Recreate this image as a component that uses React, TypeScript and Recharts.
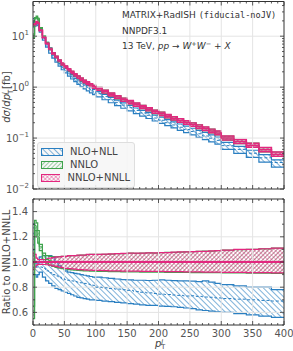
import React from "react";
import { ComposedChart, Area, Line, XAxis, YAxis, ReferenceLine, Legend } from "recharts";

// bin edges in GeV (pT of the leading jet)
const edges = [
  0, 2.5, 5, 7.5,
  10, 15, 20, 25, 30, 35, 40, 45, 50, 55, 60, 65, 70, 75, 80, 85, 90, 95,
  100, 110, 120, 130, 140, 150, 160, 170, 180, 190, 200, 210, 220, 230, 240, 250, 260, 270, 280, 290,
  300, 320, 340, 360, 380, 400,
];

// NNLO+NNLL central value per bin [fb/GeV]
const nnllTop = [
  17, 17.5, 19, 18,
  13, 9.5, 7.2, 5.6, 4.6, 3.9, 3.3, 2.85, 2.5, 2.2, 1.95, 1.75, 1.58, 1.43, 1.3, 1.2, 1.1, 1.02,
  0.93, 0.82, 0.72, 0.64, 0.57, 0.51, 0.455, 0.41, 0.37, 0.33, 0.3, 0.27, 0.245, 0.222, 0.202, 0.184, 0.167, 0.152, 0.138, 0.126,
  0.1, 0.085, 0.072, 0.059, 0.048,
];

// ratios to NNLO+NNLL central
const nnllHi = [
  1.07, 1.06, 1.03, 1.02,
  1.02, 1.02, 1.025, 1.03, 1.035, 1.04, 1.04, 1.045, 1.045, 1.05, 1.05, 1.05, 1.055, 1.055, 1.055, 1.06, 1.06, 1.06,
  1.06, 1.062, 1.064, 1.066, 1.068, 1.07, 1.07, 1.07, 1.072, 1.072, 1.075, 1.075, 1.078, 1.08, 1.08, 1.082, 1.085, 1.085, 1.088, 1.09,
  1.095, 1.1, 1.1, 1.105, 1.11,
];
const nnllLo = [
  0.94, 0.96, 0.975, 0.98,
  0.98, 0.98, 0.978, 0.975, 0.97, 0.965, 0.96, 0.955, 0.95, 0.948, 0.945, 0.943, 0.94, 0.94, 0.938, 0.936, 0.935, 0.934,
  0.933, 0.932, 0.93, 0.929, 0.928, 0.927, 0.927, 0.926, 0.926, 0.925, 0.925, 0.924, 0.924, 0.923, 0.922, 0.922, 0.921, 0.92, 0.92, 0.92,
  0.918, 0.917, 0.916, 0.915, 0.914,
];

const nnloMid = [
  0.6, 1.29, 1.25, 1.2,
  1.12, 1.05, 1.02, 1.01, 1.0, 1.0, 1.0, 0.995, 0.995, 1.0, 1.0, 0.995, 1.0, 1.0, 0.995, 1.0, 1.0, 0.995,
  1.0, 0.995, 1.0, 1.0, 0.995, 1.0, 1.0, 0.995, 1.0, 1.0, 0.995, 1.0, 1.0, 0.995, 1.0, 1.0, 0.995, 1.0, 1.0, 0.995,
  1.0, 0.995, 1.0, 1.0, 0.995,
];
const nnloHi = [
  0.65, 1.33, 1.31, 1.25,
  1.14, 1.07, 1.05, 1.045, 1.04, 1.04, 1.042, 1.045, 1.045, 1.048, 1.05, 1.05, 1.052, 1.055, 1.055, 1.058, 1.06, 1.06,
  1.06, 1.061, 1.063, 1.066, 1.067, 1.07, 1.069, 1.071, 1.072, 1.071, 1.074, 1.076, 1.077, 1.079, 1.081, 1.082, 1.084, 1.086, 1.087, 1.09,
  1.094, 1.099, 1.101, 1.104, 1.11,
];
const nnloLo = [
  0.55, 1.25, 1.2, 1.15,
  1.09, 1.02, 0.99, 0.975, 0.965, 0.958, 0.952, 0.948, 0.944, 0.94, 0.937, 0.935, 0.933, 0.932, 0.93, 0.929, 0.928, 0.927,
  0.926, 0.925, 0.924, 0.923, 0.922, 0.921, 0.921, 0.92, 0.92, 0.919, 0.919, 0.918, 0.918, 0.917, 0.917, 0.916, 0.916, 0.915, 0.915, 0.915,
  0.914, 0.913, 0.912, 0.911, 0.91,
];

const nllMid = [
  1.1, 0.97, 0.96, 0.96,
  0.96, 0.95, 0.93, 0.915, 0.9, 0.89, 0.88, 0.87, 0.86, 0.855, 0.85, 0.845, 0.84, 0.835, 0.83, 0.825, 0.82, 0.815,
  0.8, 0.795, 0.79, 0.785, 0.78, 0.775, 0.765, 0.76, 0.755, 0.75, 0.745, 0.742, 0.738, 0.735, 0.73, 0.732, 0.727, 0.722, 0.72, 0.715,
  0.71, 0.705, 0.7, 0.695, 0.69,
];
const nllHi = [
  1.3, 1.0, 0.99, 0.99,
  1.04, 1.05, 1.05, 1.05, 1.04, 1.0, 0.97, 0.95, 0.93, 0.92, 0.915, 0.91, 0.905, 0.9, 0.895, 0.89, 0.885, 0.88,
  0.88, 0.875, 0.87, 0.865, 0.86, 0.858, 0.855, 0.855, 0.853, 0.855, 0.858, 0.855, 0.852, 0.85, 0.85, 0.848, 0.845, 0.85, 0.84, 0.83,
  0.82, 0.81, 0.8, 0.8, 0.78,
];
const nllLo = [
  0.9, 0.9, 0.88, 0.9,
  0.92, 0.88, 0.85, 0.83, 0.81, 0.79, 0.78, 0.77, 0.76, 0.75, 0.74, 0.73, 0.72, 0.715, 0.71, 0.705, 0.7, 0.7,
  0.695, 0.69, 0.685, 0.68, 0.675, 0.67, 0.665, 0.66, 0.655, 0.655, 0.65, 0.648, 0.645, 0.64, 0.635, 0.63, 0.62, 0.615, 0.61, 0.605,
  0.6, 0.59, 0.58, 0.57, 0.56,
];

const xTicks = [0, 10, 20, 30, 40, 50, 60, 70, 80, 90, 100, 110, 120, 130, 140, 150, 160, 170, 180, 190, 200,
  210, 220, 230, 240, 250, 260, 270, 280, 290, 300, 310, 320, 330, 340, 350, 360, 370, 380, 390, 400];
const xMajor = [0, 50, 100, 150, 200, 250, 300, 350, 400];
const decades = [0.01, 0.1, 1, 10];
const logTicks = decades.flatMap((d) => [1, 2, 3, 4, 5, 6, 7, 8, 9].map((m) => d * m)).filter((v) => v < 48);
const rTicks = [0.5, 0.6, 0.7, 0.8, 0.9, 1.0, 1.1, 1.2, 1.3, 1.4, 1.5];
const rMajor = [0.6, 0.8, 1.0, 1.2, 1.4];

const BLUE = "#2a7fc1";
const GREEN = "#3fa34d";
const PINK = "#e3277f";
const AXIS = "#333";
const LABEL = "#555";
const GRID = "#e4e4e4";

const rows = edges.map((x, i) => {
  const b = Math.min(i, nnllTop.length - 1);
  const c = nnllTop[b];
  return {
    x,
    nll: [c * nllLo[b], c * nllHi[b]],
    nllC: c * nllMid[b],
    nnlo: [c * nnloLo[b], c * nnloHi[b]],
    nnloC: c * nnloMid[b],
    nnll: [c * nnllLo[b], c * nnllHi[b]],
    nnllC: c,
    rNll: [nllLo[b], nllHi[b]],
    rNllC: nllMid[b],
    rNnlo: [nnloLo[b], nnloHi[b]],
    rNnloC: nnloMid[b],
    rNnll: [nnllLo[b], nnllHi[b]],
    rNnllC: 1,
  };
});

const series = [
  { name: "NLO+NLL", fill: "url(#hBlue)", color: BLUE },
  { name: "NNLO", fill: "url(#hGreen)", color: GREEN },
  { name: "NNLO+NNLL", fill: "url(#hPink)", color: PINK },
];

const XTick = ({ x, y, payload, down, label }: any) => {
  const v = payload.value;
  const major = xMajor.includes(v);
  const len = major ? 4 : 2;
  return (
    <g>
      <line x1={x} x2={x} y1={y} y2={down ? y + len : y - len} stroke={AXIS} strokeWidth={0.8} />
      {label && major && (
        <text x={x} y={y + 12} textAnchor="middle" fontSize={10} fill={LABEL}>{v}</text>
      )}
    </g>
  );
};

const LogTick = ({ x, y, payload, left }: any) => {
  const v = payload.value;
  const e = Math.log10(v);
  const major = Math.abs(e - Math.round(e)) < 1e-6;
  const len = major ? 4 : 2;
  const ex = Math.round(e);
  return (
    <g>
      <line x1={x} x2={left ? x + len : x - len} y1={y} y2={y} stroke={AXIS} strokeWidth={0.8} />
      {left && major && (
        <text x={x - 4} y={y + 3.5} textAnchor="end" fontSize={10} fill={LABEL}>
          10<tspan dy={-5} fontSize={7}>{ex < 0 ? "\u2212" + -ex : ex}</tspan>
        </text>
      )}
    </g>
  );
};

const RTick = ({ x, y, payload, left }: any) => {
  const v = payload.value;
  const major = rMajor.some((m) => Math.abs(m - v) < 1e-6);
  const len = major ? 4 : 2;
  return (
    <g>
      <line x1={x} x2={left ? x + len : x - len} y1={y} y2={y} stroke={AXIS} strokeWidth={0.8} />
      {left && major && (
        <text x={x - 5} y={y + 3.5} textAnchor="end" fontSize={10} fill={LABEL}>{v.toFixed(1)}</text>
      )}
    </g>
  );
};

const LegendBox = () => (
  <div
    style={{
      background: "rgba(246,246,246,0.88)",
      border: "1px solid #dedede",
      borderRadius: 3,
      padding: "2px 4px 2px 3px",
      fontSize: 10,
      color: "#444",
      boxSizing: "border-box",
      width: 98,
    }}
  >
    {series.map((s) => (
      <div key={s.name} style={{ display: "flex", alignItems: "center", height: 13.2, gap: 7 }}>
        <svg width={22} height={8} style={{ display: "block" }}>
          <rect x={0.5} y={0.5} width={21} height={7} fill={s.fill} stroke={s.color} strokeWidth={1} />
        </svg>
        <span>{s.name}</span>
      </div>
    ))}
  </div>
);

const axisLine = { stroke: AXIS, strokeWidth: 1 };

export default function App() {
  return (
    <div style={{ position: "absolute", left: 0, top: 0, width: 293, height: 351, background: "#fff", fontFamily: "DejaVu Sans" }}>
      <svg width={0} height={0} style={{ position: "absolute" }}>
        <defs>
          <pattern id="hBlue" patternUnits="userSpaceOnUse" width={4} height={4} patternTransform="rotate(-45)">
            <line x1={0} y1={0} x2={0} y2={4} stroke={BLUE} strokeWidth={1.2} />
          </pattern>
          <pattern id="hGreen" patternUnits="userSpaceOnUse" width={3} height={3} patternTransform="rotate(45)">
            <line x1={0} y1={0} x2={0} y2={3} stroke={GREEN} strokeWidth={1} />
          </pattern>
          <pattern id="hPink" patternUnits="userSpaceOnUse" width={3} height={3} patternTransform="rotate(45)">
            <line x1={0} y1={0} x2={0} y2={3} stroke={PINK} strokeWidth={0.8} />
            <line x1={0} y1={0} x2={3} y2={0} stroke={PINK} strokeWidth={0.8} />
          </pattern>
        </defs>
      </svg>

      {/* main panel */}
      <div style={{ position: "absolute", left: 0, top: 0 }}>
        <ComposedChart width={293} height={200} data={rows} margin={{ top: 0.5, right: 0, bottom: 0, left: 0 }}>
          <XAxis xAxisId="top" orientation="top" height={1} type="number" dataKey="x" domain={[0, 400]} ticks={xTicks}
            interval={0} tickSize={0} tickMargin={0} allowDataOverflow axisLine={axisLine} tickLine={false}
            tick={(p: any) => <XTick {...p} down />} />
          <XAxis height={11} type="number" dataKey="x" domain={[0, 400]} ticks={xTicks}
            interval={0} tickSize={0} tickMargin={0} allowDataOverflow axisLine={axisLine} tickLine={false}
            tick={(p: any) => <XTick {...p} />} />
          <YAxis yAxisId="l" width={33} scale="log" domain={[0.01, 48]} ticks={logTicks} interval={0}
            tickSize={0} tickMargin={0} allowDataOverflow axisLine={axisLine} tickLine={false}
            tick={(p: any) => <LogTick {...p} left />} />
          <YAxis yAxisId="r" orientation="right" width={9} scale="log" domain={[0.01, 48]} ticks={logTicks} interval={0}
            tickSize={0} tickMargin={0} allowDataOverflow axisLine={axisLine} tickLine={false}
            tick={(p: any) => <LogTick {...p} />} />

          {xMajor.slice(1, -1).map((v) => (
            <ReferenceLine key={"gx" + v} x={v} yAxisId="l" stroke={GRID} strokeWidth={1} />
          ))}
          {[0.1, 1, 10].map((v) => (
            <ReferenceLine key={"gy" + v} y={v} yAxisId="l" stroke={GRID} strokeWidth={1} />
          ))}

          <Area yAxisId="l" type="stepAfter" dataKey="nll" name="NLO+NLL" fill="url(#hBlue)" fillOpacity={1}
            stroke={BLUE} strokeWidth={1.2} isAnimationActive={false} dot={false} activeDot={false} />
          <Line yAxisId="l" type="stepAfter" dataKey="nllC" stroke={BLUE} strokeWidth={1} strokeDasharray="3 2"
            isAnimationActive={false} dot={false} activeDot={false} legendType="none" />
          <Area yAxisId="l" type="stepAfter" dataKey="nnlo" name="NNLO" fill="url(#hGreen)" fillOpacity={1}
            stroke={GREEN} strokeWidth={1.2} isAnimationActive={false} dot={false} activeDot={false} />
          <Line yAxisId="l" type="stepAfter" dataKey="nnloC" stroke={GREEN} strokeWidth={1}
            isAnimationActive={false} dot={false} activeDot={false} legendType="none" />
          <Area yAxisId="l" type="stepAfter" dataKey="nnll" name="NNLO+NNLL" fill="url(#hPink)" fillOpacity={1}
            stroke={PINK} strokeWidth={1.4} isAnimationActive={false} dot={false} activeDot={false} />
          <Line yAxisId="l" type="stepAfter" dataKey="nnllC" stroke={PINK} strokeWidth={1.6}
            isAnimationActive={false} dot={false} activeDot={false} legendType="none" />

          <Legend layout="vertical" align="center" verticalAlign="middle"
            wrapperStyle={{ left: 37, top: 142, width: 98 }} content={() => <LegendBox />} />
        </ComposedChart>
      </div>

      {/* ratio panel */}
      <div style={{ position: "absolute", left: 0, top: 195 }}>
        <ComposedChart width={293} height={156} data={rows} margin={{ top: 3, right: 0, bottom: 0, left: 0 }}>
          <XAxis xAxisId="top" orientation="top" height={1} type="number" dataKey="x" domain={[0, 400]} ticks={xTicks}
            interval={0} tickSize={0} tickMargin={0} allowDataOverflow axisLine={axisLine} tickLine={false}
            tick={(p: any) => <XTick {...p} down />} />
          <XAxis height={26} type="number" dataKey="x" domain={[0, 400]} ticks={xTicks}
            interval={0} tickSize={0} tickMargin={0} allowDataOverflow axisLine={axisLine} tickLine={false}
            tick={(p: any) => <XTick {...p} label />} />
          <YAxis yAxisId="l" width={33} type="number" domain={[0.5, 1.5]} ticks={rTicks} interval={0}
            tickSize={0} tickMargin={0} allowDataOverflow axisLine={axisLine} tickLine={false}
            tick={(p: any) => <RTick {...p} left />} />
          <YAxis yAxisId="r" orientation="right" width={9} type="number" domain={[0.5, 1.5]} ticks={rTicks} interval={0}
            tickSize={0} tickMargin={0} allowDataOverflow axisLine={axisLine} tickLine={false}
            tick={(p: any) => <RTick {...p} />} />

          {xMajor.slice(1, -1).map((v) => (
            <ReferenceLine key={"rx" + v} x={v} yAxisId="l" stroke={GRID} strokeWidth={1} />
          ))}
          {rMajor.map((v) => (
            <ReferenceLine key={"ry" + v} y={v} yAxisId="l" stroke={GRID} strokeWidth={1} />
          ))}

          <Area yAxisId="l" type="stepAfter" dataKey="rNll" fill="url(#hBlue)" fillOpacity={1}
            stroke={BLUE} strokeWidth={1.2} isAnimationActive={false} dot={false} activeDot={false} />
          <Line yAxisId="l" type="stepAfter" dataKey="rNllC" stroke={BLUE} strokeWidth={1} strokeDasharray="3 2"
            isAnimationActive={false} dot={false} activeDot={false} />
          <Area yAxisId="l" type="stepAfter" dataKey="rNnlo" fill="url(#hGreen)" fillOpacity={1}
            stroke={GREEN} strokeWidth={1.2} isAnimationActive={false} dot={false} activeDot={false} />
          <Line yAxisId="l" type="stepAfter" dataKey="rNnloC" stroke={GREEN} strokeWidth={1}
            isAnimationActive={false} dot={false} activeDot={false} />
          <Area yAxisId="l" type="stepAfter" dataKey="rNnll" fill="url(#hPink)" fillOpacity={1}
            stroke={PINK} strokeWidth={1.2} isAnimationActive={false} dot={false} activeDot={false} />
          <Line yAxisId="l" type="stepAfter" dataKey="rNnllC" stroke={PINK} strokeWidth={2}
            isAnimationActive={false} dot={false} activeDot={false} />
        </ComposedChart>
      </div>

      {/* texts */}
      <svg width={293} height={351} style={{ position: "absolute", left: 0, top: 0, pointerEvents: "none" }}>
        <text x={122} y={18.3} fontSize={9} fill="#333">
          MATRIX+RadISH <tspan fontFamily="DejaVu Sans Mono" fontSize={8.6}>(fiducial-noJV)</tspan>
        </text>
        <text x={122} y={34.3} fontSize={9} fill="#333">NNPDF3.1</text>
        <text x={122} y={49} fontSize={9} fill="#333">
          13 TeV, <tspan fontStyle="italic">pp</tspan> {"\u2192"} <tspan fontStyle="italic">W</tspan>
          <tspan dy={-3.5} fontSize={6.5}>+</tspan><tspan dy={3.5} fontStyle="italic">W</tspan>
          <tspan dy={-3.5} fontSize={6.5}>{"\u2212"}</tspan><tspan dy={3.5}> + </tspan>
          <tspan fontStyle="italic">X</tspan>
        </text>
        <text transform="translate(10,97) rotate(-90)" textAnchor="middle" fontSize={10} fill="#444">
          <tspan fontStyle="italic">d{"\u03c3"}</tspan>/<tspan fontStyle="italic">dp</tspan>
          <tspan dy={2.5} fontSize={7}>T</tspan><tspan dy={-6} dx={-4.5} fontSize={7} fontStyle="italic">J</tspan>
          <tspan dy={3.5}> [fb]</tspan>
        </text>
        <text transform="translate(9.5,262) rotate(-90)" textAnchor="middle" fontSize={10} fill="#444">
          Ratio to NNLO+NNLL
        </text>
        <text x={155} y={346.5} fontSize={10} fill="#444">
          <tspan fontStyle="italic">p</tspan>
          <tspan dy={2} fontSize={6.5}>T</tspan><tspan dy={-5} dx={-4} fontSize={6.5} fontStyle="italic">J</tspan>
        </text>
      </svg>
    </div>
  );
}
